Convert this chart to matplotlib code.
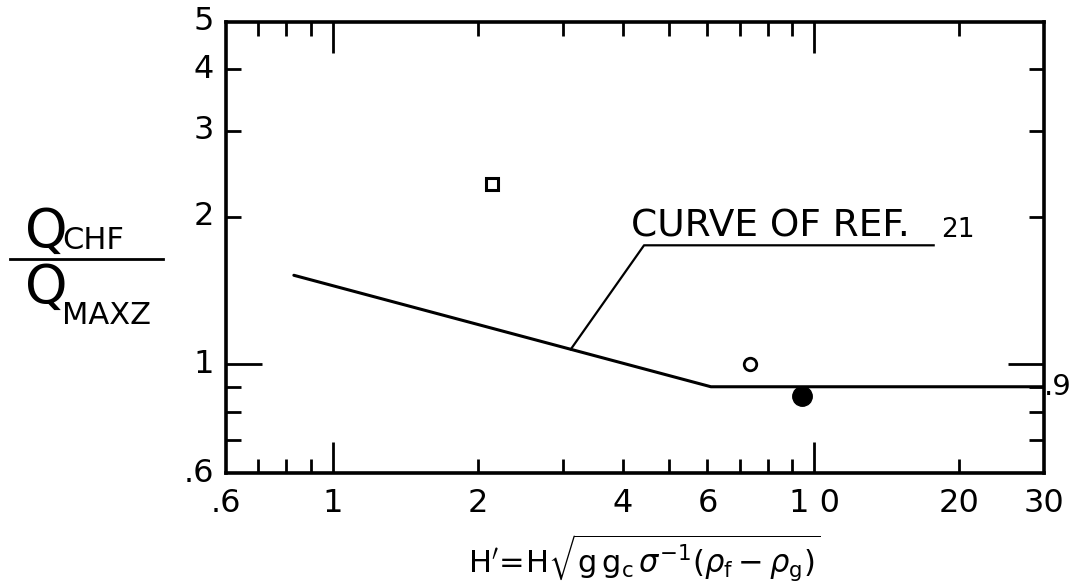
import matplotlib
matplotlib.use("Agg")
import matplotlib.pyplot as plt
from matplotlib.ticker import FixedLocator, NullFormatter
from matplotlib.lines import Line2D
import matplotlib.transforms as mtransforms

plt.rcParams['font.family'] = ['DejaVu Sans']
plt.rcParams['mathtext.fontset'] = 'dejavusans'

# Correlation curve (Ref. 21)
curve_x = [0.83, 6.1, 30.0]
curve_y = [1.52, 0.9, 0.9]

# Leader from the curve to the annotation
leader_x = [3.12, 4.43, 17.7]
leader_y = [1.073, 1.75, 1.75]

# Test points
square_x, square_y = [2.14], [2.33]
open_x, open_y = [7.34], [1.0]
filled_x, filled_y = [9.44], [0.862]

# Axis ticks and labels
x_major = [1, 10]
x_minor = [0.7, 0.8, 0.9, 2, 3, 4, 5, 6, 7, 8, 9, 20]
x_label_vals = [0.6, 1, 2, 4, 6, 10, 20, 30]
x_label_txt = ['.6', '1', '2', '4', '6', '1 0', '20', '30']
y_major = [1]
y_minor_low = [0.7, 0.8, 0.9]
y_minor_high = [2, 3, 4]
y_label_vals = [0.6, 1, 2, 3, 4, 5]
y_label_txt = ['.6', '1', '2', '3', '4', '5']

fig = plt.figure(figsize=(10.74, 5.86), dpi=100)
ax = fig.add_axes([226 / 1074, 113 / 586, 818 / 1074, 451 / 586])
ax.set_xscale('log')
ax.set_yscale('log')
ax.set_xlim(0.6, 30)
ax.set_ylim(0.6, 5)

for s in ax.spines.values():
    s.set_linewidth(2.6)

ax.xaxis.set_major_locator(FixedLocator(x_major))
ax.xaxis.set_minor_locator(FixedLocator(x_minor))
ax.yaxis.set_major_locator(FixedLocator(y_major))
ax.yaxis.set_minor_locator(FixedLocator(y_minor_low + y_minor_high))
for axis in (ax.xaxis, ax.yaxis):
    axis.set_major_formatter(NullFormatter())
    axis.set_minor_formatter(NullFormatter())

ax.tick_params(which='both', direction='in', top=True, right=True,
               labelbottom=False, labelleft=False, width=2.0)
ax.tick_params(axis='x', which='major', length=22)
ax.tick_params(axis='x', which='minor', length=10)
ax.tick_params(axis='y', which='major', length=26)
ax.tick_params(axis='y', which='minor', length=11)

# curve and leader
ax.plot(curve_x, curve_y, color='black', lw=2.2, solid_capstyle='round')
ax.plot(leader_x, leader_y, color='black', lw=1.6)

# data points
ax.plot(square_x, square_y, 's', ms=9, mfc='white', mec='black', mew=2.2)
ax.plot(open_x, open_y, 'o', ms=9, mfc='white', mec='black', mew=2.0)
ax.plot(filled_x, filled_y, 'o', ms=14, color='black')

ax.text(4.17, 1.82, 'CURVE OF REF.', fontsize=27, ha='left', va='baseline')
ax.text(18.3, 1.82, '21', fontsize=19, ha='left', va='baseline')

# tick labels
xt = ax.get_xaxis_transform()
off_x = mtransforms.offset_copy(xt, fig=fig, x=0, y=-30, units='dots')
for v, t in zip(x_label_vals, x_label_txt):
    ax.text(v, 0, t, transform=off_x, fontsize=23, ha='center', va='center')

yt = ax.get_yaxis_transform()
off_y = mtransforms.offset_copy(yt, fig=fig, x=-12, y=0, units='dots')
for v, t in zip(y_label_vals, y_label_txt):
    ax.text(0, v, t, transform=off_y, fontsize=23, ha='right', va='center')
ax.text(1, 0.9, '.9', transform=yt, fontsize=21, ha='left', va='center')

# y-axis label drawn as a fraction
fig.text(25 / 1074, 1 - 247 / 586, 'Q', fontsize=39, ha='left', va='baseline')
fig.text(62 / 1074, 1 - 249 / 586, 'CHF', fontsize=22, ha='left', va='baseline')
fig.add_artist(Line2D([10 / 1074, 163 / 1074], [1 - 259 / 586, 1 - 259 / 586],
                      transform=fig.transFigure, color='black', lw=2.0))
fig.text(25 / 1074, 1 - 303 / 586, 'Q', fontsize=39, ha='left', va='baseline')
fig.text(62 / 1074, 1 - 324 / 586, 'MAXZ', fontsize=22, ha='left', va='baseline')

# x-axis label
fig.text(644 / 1074, 1 - 558 / 586,
         r"$\mathrm{H'\!=\!H}\sqrt{\mathrm{g\,g_c}\,\sigma^{-1}(\rho_\mathrm{f}-\rho_\mathrm{g})}$",
         fontsize=22, ha='center', va='center')

fig.savefig('out.png', dpi=100, facecolor='white')
